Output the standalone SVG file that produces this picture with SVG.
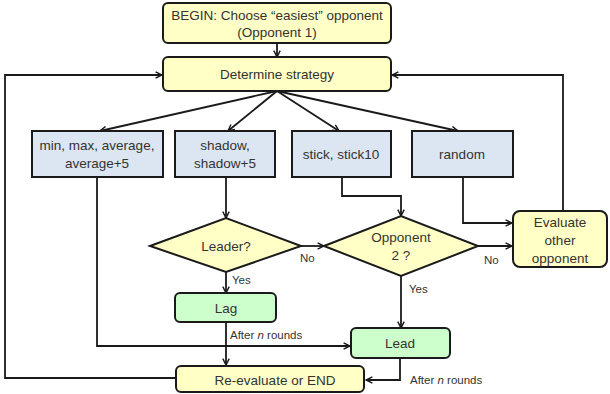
<svg xmlns="http://www.w3.org/2000/svg" width="610" height="394" viewBox="0 0 610 394">
<defs>
<marker id="ah" viewBox="0 0 10 10" refX="9" refY="5" markerWidth="8" markerHeight="8" markerUnits="userSpaceOnUse" orient="auto">
<path d="M1,1 L9,5 L1,9" fill="none" stroke="#1a1a1a" stroke-width="1.8"/>
</marker>
</defs>
<style>
.y{fill:#ffffc6;stroke:#1a1a1a;stroke-width:2}
.b{fill:#dce6f2;stroke:#1a1a1a;stroke-width:2}
.g{fill:#ccffcc;stroke:#1a1a1a;stroke-width:2}
text{font-family:"Liberation Sans",Arial,sans-serif;font-size:13.5px;fill:#333;text-anchor:middle;dominant-baseline:central}
.s{font-size:11.5px;text-anchor:start}
#connectors path{fill:none;stroke:#1a1a1a;stroke-width:1.8}
</style>
<g id="connectors">
<path d="M277,43 L277,57" marker-end="url(#ah)"/>
<path d="M277,91 L100,131" marker-end="url(#ah)"/>
<path d="M277,91 L228,131" marker-end="url(#ah)"/>
<path d="M277,91 L339,131" marker-end="url(#ah)"/>
<path d="M277,91 L458,131" marker-end="url(#ah)"/>
<path d="M226,177 L226,218" marker-end="url(#ah)"/>
<path d="M342,177 L342,196 L401,196 L401,216" marker-end="url(#ah)"/>
<path d="M463,177 L463,223 L512,223" marker-end="url(#ah)"/>
<path d="M300,246 L324,246" marker-end="url(#ah)"/>
<path d="M477,246 L512,246" marker-end="url(#ah)"/>
<path d="M563,211 L563,75 L392,75" marker-end="url(#ah)"/>
<path d="M176,378 L5,378 L5,75 L162,75" marker-end="url(#ah)"/>
<path d="M226,272 L226,293" marker-end="url(#ah)"/>
<path d="M401,276 L401,328" marker-end="url(#ah)"/>
<path d="M97,177 L97,346 L350,346" marker-end="url(#ah)"/>
<path d="M226,322 L226,365" marker-end="url(#ah)"/>
<path d="M400,358 L400,380 L366,380" marker-end="url(#ah)"/>
</g>
<g id="begin">
<rect class="y" x="163" y="3" width="228" height="40" rx="5"/>
<text x="277" y="15">BEGIN: Choose “easiest” opponent</text>
<text x="277" y="32">(Opponent 1)</text>
</g>
<g id="determine">
<rect class="y" x="163" y="57" width="228" height="34" rx="5"/>
<text x="277" y="74">Determine strategy</text>
</g>
<g id="box-minmax">
<rect class="b" x="32" y="131" width="131" height="46"/>
<text x="97" y="145">min, max, average,</text>
<text x="97" y="163">average+5</text>
</g>
<g id="box-shadow">
<rect class="b" x="175" y="131" width="100" height="46"/>
<text x="225" y="145">shadow,</text>
<text x="225" y="163">shadow+5</text>
</g>
<g id="box-stick">
<rect class="b" x="292" y="131" width="99" height="46"/>
<text x="341" y="154">stick, stick10</text>
</g>
<g id="box-random">
<rect class="b" x="412" y="131" width="101" height="46"/>
<text x="462" y="154">random</text>
</g>
<g id="leader">
<path class="y" d="M150,246 L226,218 L301,246 L226,272 Z"/>
<text x="226" y="246">Leader?</text>
</g>
<g id="opponent2">
<path class="y" d="M324,246 L401,216 L478,246 L401,276 Z"/>
<text x="401" y="237">Opponent</text>
<text x="401" y="255">2 ?</text>
</g>
<g id="evaluate">
<rect class="y" x="513" y="211" width="94" height="56" rx="7"/>
<text x="560" y="222">Evaluate</text>
<text x="560" y="240">other</text>
<text x="560" y="258">opponent</text>
</g>
<g id="lag">
<rect class="g" x="175" y="293" width="101" height="29" rx="5"/>
<text x="226" y="308">Lag</text>
</g>
<g id="lead">
<rect class="g" x="351" y="328" width="99" height="30" rx="5"/>
<text x="400" y="343">Lead</text>
</g>
<g id="reevaluate">
<rect class="y" x="176" y="366" width="188" height="26" rx="5"/>
<text x="275" y="380">Re-evaluate or END</text>
</g>
<g id="labels">
<text class="s" x="300" y="258">No</text>
<text class="s" x="484" y="260">No</text>
<text class="s" x="232" y="280">Yes</text>
<text class="s" x="409" y="289">Yes</text>
<text class="s" x="230" y="335">After <tspan font-style="italic">n</tspan> rounds</text>
<text class="s" x="410" y="380">After <tspan font-style="italic">n</tspan> rounds</text>
</g>
</svg>
